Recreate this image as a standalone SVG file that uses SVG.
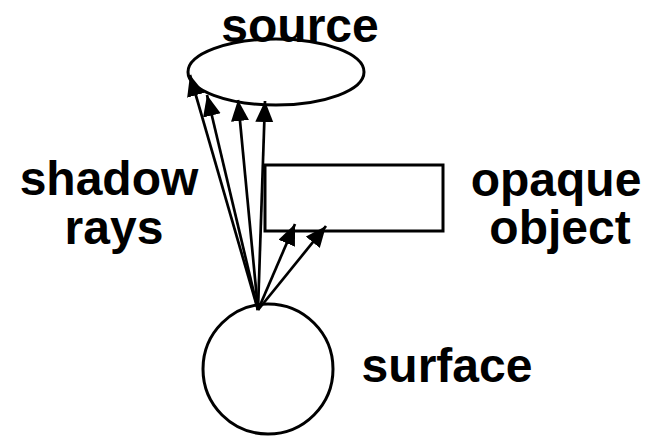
<svg xmlns="http://www.w3.org/2000/svg" width="653" height="438" viewBox="0 0 653 438">
<style>
.shape{fill:#fff;stroke:#000;stroke-width:3}
.ray{stroke:#000;stroke-width:2.7;fill:none;marker-end:url(#ah)}
.lbl{font-family:"Liberation Sans",Arial,sans-serif;font-weight:bold;font-size:48px;fill:#000}
</style>
<defs>
<marker id="ah" markerUnits="userSpaceOnUse" markerWidth="22" markerHeight="20" refX="21" refY="9" orient="auto">
<path d="M0,0 L21,9 L0,18 z" fill="#000"/>
</marker>
</defs>
<rect width="653" height="438" fill="#fff"/>
<g id="source">
<ellipse class="shape" cx="276" cy="72" rx="88" ry="33"/>
<text class="lbl" x="300" y="42" text-anchor="middle">source</text>
</g>
<g id="opaque-object">
<rect class="shape" x="265" y="165" width="178" height="66"/>
<text class="lbl" x="556" y="196" text-anchor="middle">opaque</text>
<text class="lbl" x="560" y="244" text-anchor="middle">object</text>
</g>
<g id="surface">
<circle class="shape" cx="268" cy="369" r="65"/>
<text class="lbl" x="447" y="382" text-anchor="middle">surface</text>
</g>
<g id="shadow-rays-label">
<text class="lbl" x="109" y="195" text-anchor="middle">shadow</text>
<text class="lbl" x="114" y="244" text-anchor="middle">rays</text>
</g>
<g id="connectors">
<line class="ray" x1="258" y1="310" x2="190" y2="75"/>
<line class="ray" x1="258" y1="310" x2="207" y2="95"/>
<line class="ray" x1="258" y1="310" x2="238" y2="100"/>
<line class="ray" x1="258" y1="310" x2="265" y2="101"/>
<line class="ray" x1="258" y1="310" x2="295" y2="224"/>
<line class="ray" x1="258" y1="310" x2="326" y2="226"/>
</g>
</svg>
